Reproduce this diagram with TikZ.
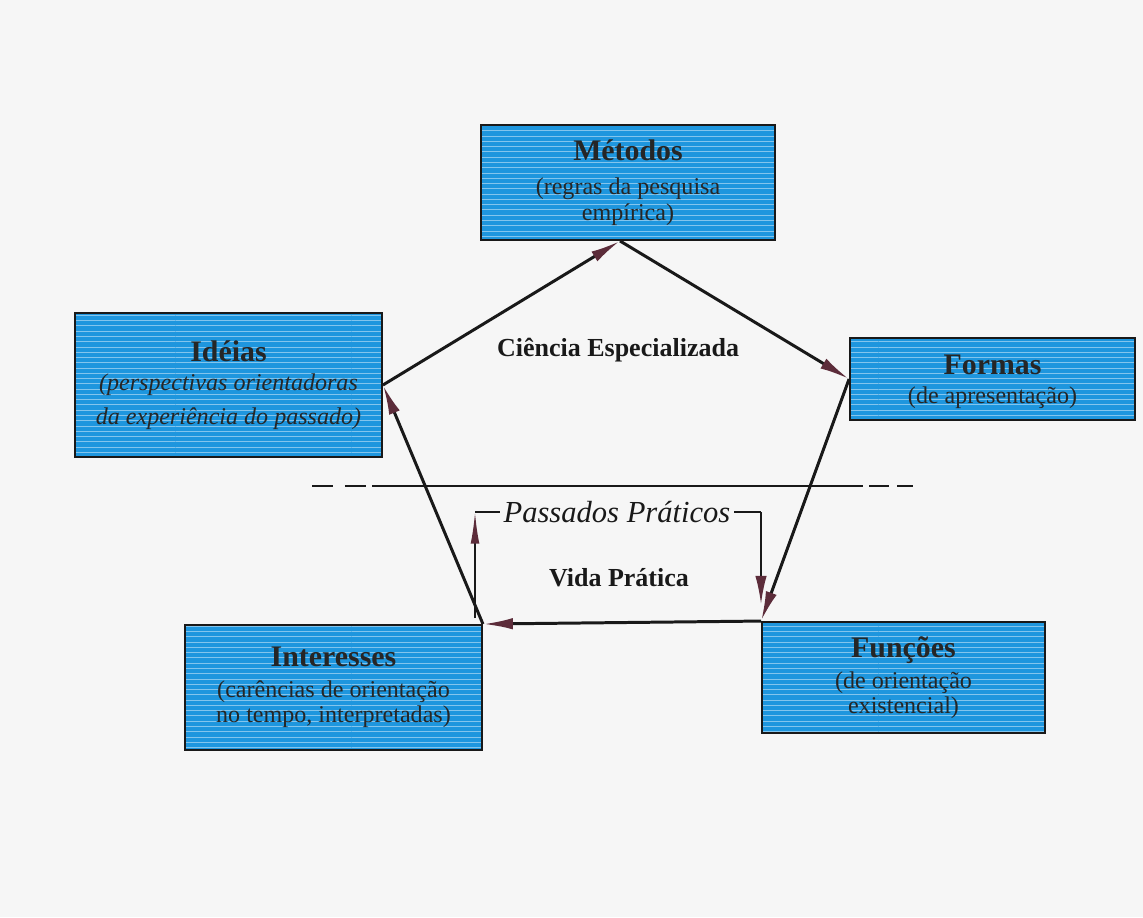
\documentclass[tikz,border=0pt]{standalone}
\usepackage{fontspec}
\setmainfont{Liberation Serif}
\usetikzlibrary{arrows.meta,patterns}
\definecolor{boxblue}{RGB}{30,150,222}
\definecolor{tipred}{RGB}{92,44,58}
\definecolor{paper}{RGB}{246,246,246}
\newcommand\boxtitle{\fontsize{17}{19}\selectfont\bfseries}
\begin{document}
\begin{tikzpicture}[x=0.02cm,y=-0.02cm,
  caixa/.style={draw=black!90, line width=1.1pt, preaction={fill=boxblue},
    pattern=horizontal lines, pattern color=boxblue!55!white,
    align=center, text=black!85, inner sep=0pt,
    font=\fontsize{13.7}{14.5}\selectfont},
  lado/.style={line width=1.7pt, black!90, -{Latex[length=17pt,width=6.5pt,color=tipred]}},
  volta/.style={line width=1.1pt, black!90},
  rotulo/.style={font=\fontsize{14.8}{16}\selectfont\bfseries, text=black!90}]
\fill [paper] (0,0) rectangle (1143,917);
\useasboundingbox (0,0) rectangle (1143,917);
\node [caixa, minimum width=5.88cm, minimum height=2.30cm] (metodos) at (628,182.5)
  {{\boxtitle Métodos}\\[5pt] (regras da pesquisa\\ empírica)};
\node [caixa, minimum width=6.14cm, minimum height=2.88cm,
  font=\fontsize{13.7}{19.4}\selectfont\itshape] (ideias) at (228.5,385)
  {{\boxtitle\upshape Idéias}\\[-3pt] (perspectivas orientadoras\\ da experiência do passado)};
\node [caixa, minimum width=5.70cm, minimum height=1.64cm] (formas) at (992.5,379)
  {\rule{0pt}{14pt}{\boxtitle Formas}\\[2pt] (de apresentação)};
\node [caixa, minimum width=5.94cm, minimum height=2.50cm] (interesses) at (333.5,687.5)
  {{\boxtitle Interesses}\\[3pt] (carências de orientação\\ no tempo, interpretadas)};
\node [caixa, minimum width=5.66cm, minimum height=2.22cm] (funcoes) at (903.5,677.5)
  {\rule{0pt}{12pt}{\boxtitle Funções}\\[3pt] (de orientação\\ existencial)};
\node [rotulo] (ciencia) at (618,350) {Ciência Especializada};
\node [rotulo] (vida) at (619,578) {Vida Prática};
\node [font=\fontsize{17.4}{19}\selectfont\itshape, text=black!90, inner sep=2pt] (passados) at (617,512) {Passados Práticos};
\draw [lado] (ideias.east) -- ([xshift=-0.16cm]metodos.south);
\draw [lado] ([xshift=-0.16cm]metodos.south) -- (formas.west);
\draw [lado] (formas.west) -- (funcoes.north west);
\draw [lado] (funcoes.north west) -- (interesses.north east);
\draw [lado] (interesses.north east) -- (ideias.east);
\coordinate (d1) at (312,486);
\coordinate (d2) at (372,486);
\coordinate (d3) at (863,486);
\coordinate (d4) at (869,486);
\coordinate (d5) at (913,486);
\draw [volta, dash pattern=on 0.42cm off 0.24cm] (d1) -- (d2);
\draw [volta] (d2) -- (d3);
\draw [volta, dash pattern=on 0.40cm off 0.16cm] (d4) -- (d5);
\coordinate (pl) at (475,618);
\coordinate (pr) at (761,604);
\draw [volta, -{Latex[length=18pt,width=5pt,color=tipred]}] (pl) -- (pl |- passados.west);
\draw [volta] (pl |- passados.west) -- (passados.west);
\draw [volta] (passados.east) -- (passados.east -| pr);
\draw [volta, -{Latex[length=16pt,width=6.5pt,color=tipred]}] (passados.east -| pr) -- (pr);
\end{tikzpicture}
\end{document}
